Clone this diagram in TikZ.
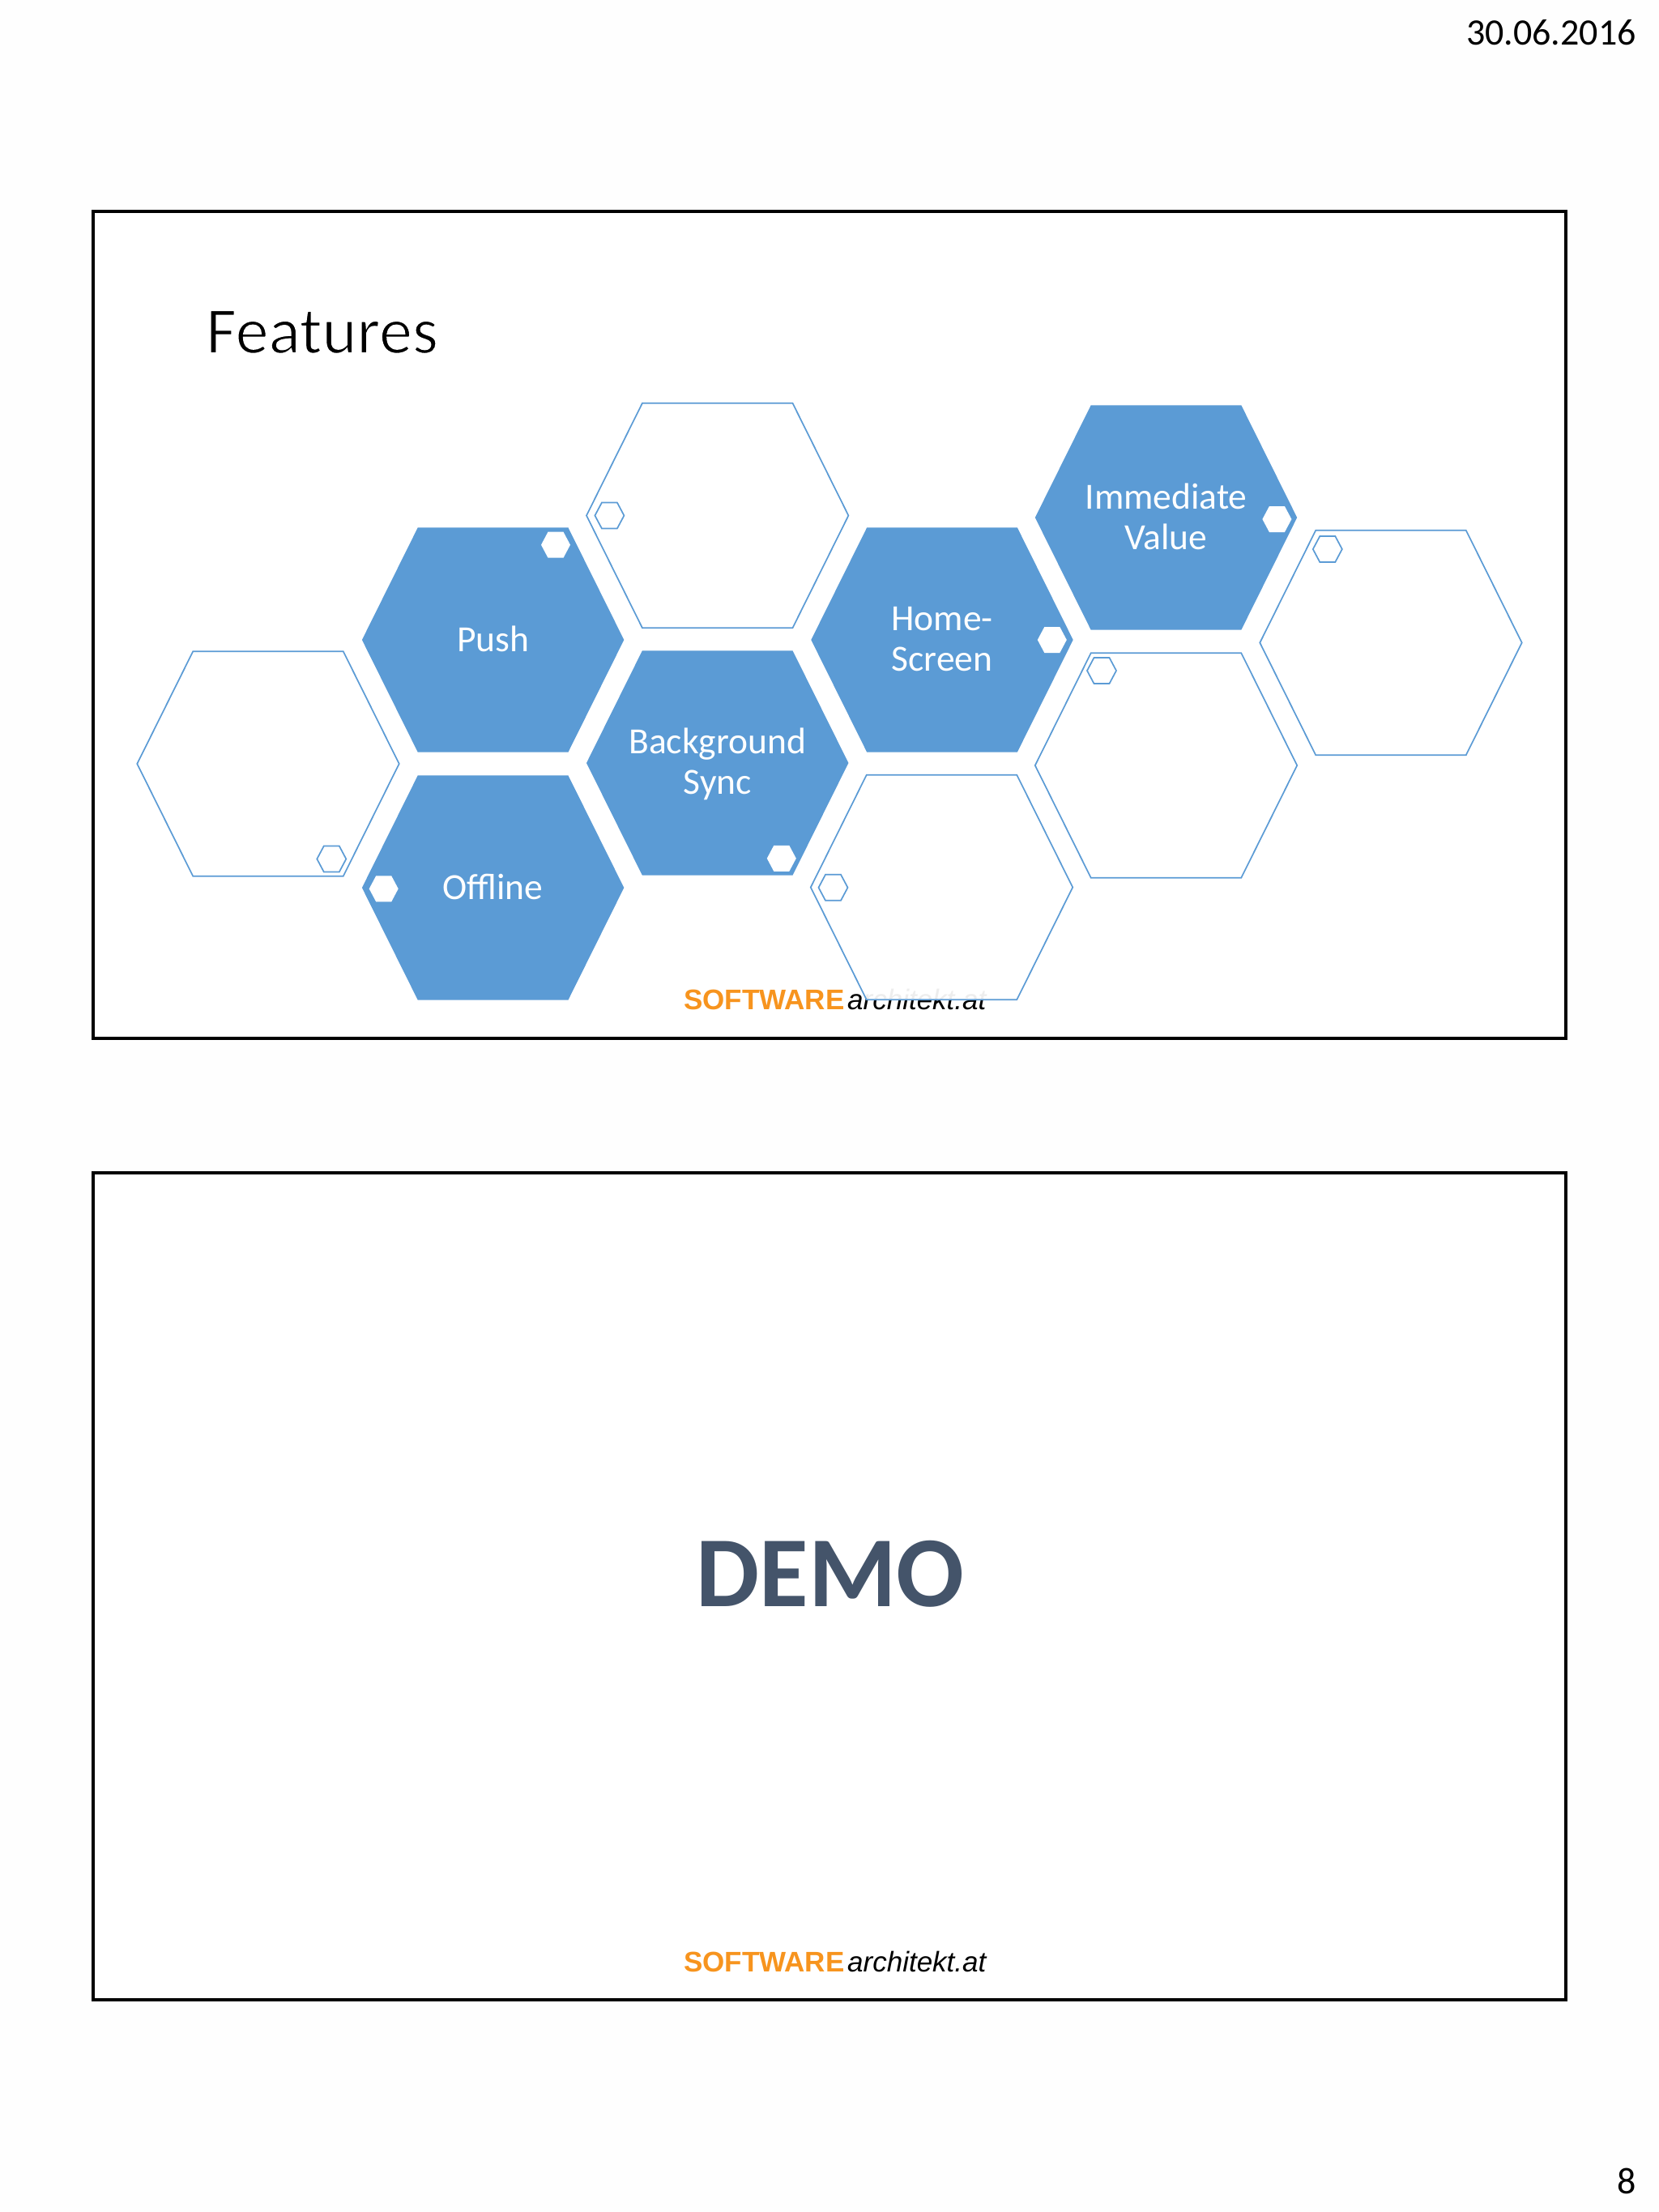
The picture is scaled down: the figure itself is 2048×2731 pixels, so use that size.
\documentclass[tikz,border=0pt]{standalone}
\usepackage{fontspec}
\setmainfont{Carlito}
\newfontfamily\logofont{Liberation Sans}
\definecolor{hexblue}{HTML}{5B9BD5}
\definecolor{slate}{HTML}{44546A}
\definecolor{logoorange}{HTML}{F7941E}
\definecolor{pagebg}{HTML}{FEFEFE}
% big hexagon at centre #1,#2 with style #3
\newcommand{\bighex}[3]{\path[#3] (#1-161.7,#2) -- (#1-92.8,#2-138.7) -- (#1+92.8,#2-138.7) -- (#1+161.7,#2) -- (#1+92.8,#2+138.7) -- (#1-92.8,#2+138.7) -- cycle;}
\newcommand{\smallhex}[3]{\path[#3] (#1-18,#2) -- (#1-9.5,#2-16) -- (#1+9.5,#2-16) -- (#1+18,#2) -- (#1+9.5,#2+16) -- (#1-9.5,#2+16) -- cycle;}
\tikzset{
  solidhex/.style={fill=hexblue},
  openhex/.style={draw=hexblue,line width=1.7pt,fill=white,fill opacity=.93,line join=miter},
  whitehex/.style={fill=white},
  minihex/.style={draw=hexblue,line width=1.7pt,fill=white,fill opacity=0},
  slideframe/.style={draw=black,line width=3.6pt},
  hexlabel/.style={text=white,align=center,font=\fontsize{45.5}{50.5}\selectfont,inner sep=0pt},
  orangelogo/.style={text=logoorange,font=\logofont\bfseries\fontsize{35}{35}\selectfont,anchor=base west,inner sep=0pt},
  blacklogo/.style={text=black,font=\logofont\itshape\fontsize{35}{35}\selectfont,anchor=base west,inner sep=0pt},
  corner/.style={text=black,font=\fontsize{46}{46}\selectfont,inner sep=0pt,anchor=base east}
}
\begin{document}
\begin{tikzpicture}[x=1pt,y=-1pt]
\useasboundingbox (0,0) rectangle (2048,2731);
\fill[pagebg] (0,0) rectangle (2048,2731);
\fill[white] (115,261) rectangle (1933,1282);
\fill[white] (115,1448) rectangle (1933,2469);
\node[corner] (date) at (2020,55) {30.06.2016};
\node[corner] (page) at (2020,2708) {8};
\node[text=black,font=\fontsize{82}{82}\selectfont,inner sep=0pt,anchor=base west] (title) at (254,436) {\special{pdf:code q 2 Tr 1.6 w 1 1 1 RG}Features\special{pdf:code Q}};
% logos
\node[orangelogo] (logoa) at (844,1246) {SOFTWARE};
\node[blacklogo] (logob) at (1046,1246) {architekt.at};
\node[orangelogo] (logoc) at (844,2434) {SOFTWARE};
\node[blacklogo] (logod) at (1046,2434) {architekt.at};
% filled hexagons
\bighex{608.6}{790}{solidhex}
\bighex{885.7}{942}{solidhex}
\bighex{608.6}{1096}{solidhex}
\bighex{1163}{790}{solidhex}
\bighex{1439.5}{639}{solidhex}
% open hexagons
\bighex{331}{943}{openhex}
\bighex{885.7}{636.5}{openhex}
\bighex{1162.5}{1095.5}{openhex}
\bighex{1439.5}{945}{openhex}
\bighex{1717}{793.5}{openhex}
% small white hexagons
\smallhex{686}{672.7}{whitehex}
\smallhex{964.8}{1059.8}{whitehex}
\smallhex{473.7}{1097.3}{whitehex}
\smallhex{1298.8}{790}{whitehex}
\smallhex{1576.4}{641}{whitehex}
% small outlined hexagons
\smallhex{409.3}{1060.5}{minihex}
\smallhex{752.4}{636.5}{minihex}
\smallhex{1028.5}{1095.8}{minihex}
\smallhex{1638.8}{678}{minihex}
\smallhex{1360}{828}{minihex}
% labels
\node[hexlabel] (push) at (608.6,789) {Push};
\node[hexlabel] (offline) at (608.6,1095) {Offline};
\node[hexlabel] (bgsync) at (885.7,943.5) {Background\\Sync};
\node[hexlabel] (home) at (1163,789) {Home-\\Screen};
\node[hexlabel] (immediate) at (1439.5,638) {Immediate\\Value};
\node[text=slate,font=\bfseries\fontsize{124}{124}\selectfont,inner sep=0pt] (demo) at (1025,1943) {DEMO};
% slide frames
\draw[slideframe] (115,261) rectangle (1933,1282);
\draw[slideframe] (115,1448) rectangle (1933,2469);
\end{tikzpicture}
\end{document}
